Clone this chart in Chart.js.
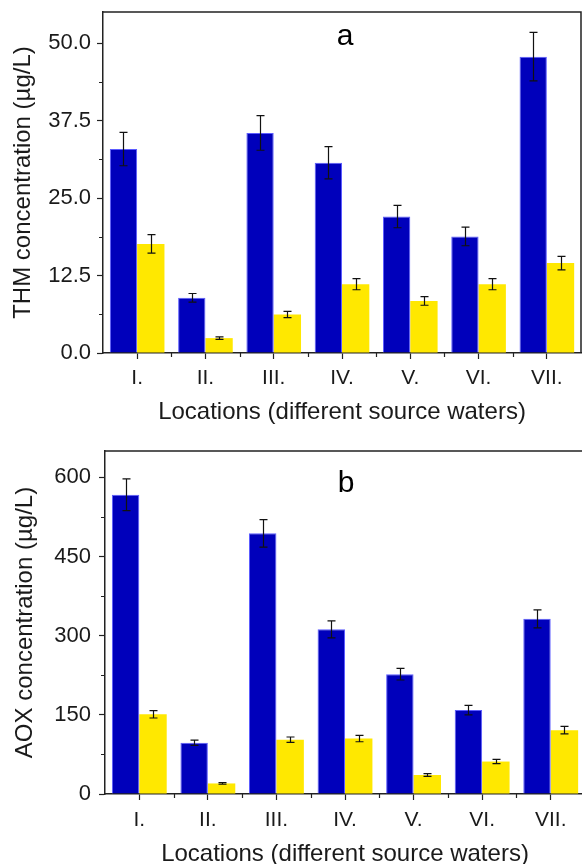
<!DOCTYPE html>
<html>
<head>
<meta charset="utf-8">
<script src="https://cdn.jsdelivr.net/npm/chart.js@4/dist/chart.umd.min.js"></script>
<style>
  html, body { margin: 0; padding: 0; background: #fff; overflow: hidden; width: 582px; height: 864px; }
  #wrapA { position: absolute; left: 0; top: 0; width: 582px; height: 432px; }
  #wrapB { position: absolute; left: 0; top: 432px; width: 592px; height: 432px; }
</style>
</head>
<body>
<div id="wrapA"><canvas id="chartA" width="582" height="432"></canvas></div>
<div id="wrapB"><canvas id="chartB" width="592" height="432"></canvas></div>
<script>
// ---- Data ----
const categories = ['I.', 'II.', 'III.', 'IV.', 'V.', 'VI.', 'VII.'];

const thmBlue      = [32.9, 8.9, 35.5, 30.7, 22.0, 18.8, 47.8];
const thmBlueErr   = [2.7, 0.7, 2.8, 2.6, 1.8, 1.5, 3.9];
const thmYellow    = [17.6, 2.4, 6.2, 11.1, 8.4, 11.1, 14.5];
const thmYellowErr = [1.5, 0.2, 0.5, 0.9, 0.7, 0.9, 1.1];

const aoxBlue      = [567, 97, 494, 312, 227, 159, 332];
const aoxBlueErr   = [30, 5, 26, 16, 11, 9, 17];
const aoxYellow    = [151, 20, 103, 105, 36, 61.5, 121];
const aoxYellowErr = [7, 1.5, 5, 6, 2.5, 4, 7];

const thmTicks = { min: 0, max: 55, step: 12.5, minor: 6.25, decimals: 1 };
const aoxTicks = { min: 0, max: 650, step: 150, minor: 75, decimals: 0 };

// ---- Styling ----
const FONT = "'Liberation Sans', Arial, Helvetica, sans-serif";
const INK = '#1a1a1a';
const BLUE = '#0000BB';
const BLUE_EDGE = '#5c5cff';
const YELLOW = '#FFE800';

const framePlugin = {
  id: 'frame',
  afterDatasetsDraw(chart, args, opts) {
    const ctx = chart.ctx;
    const y = chart.scales.y;
    ctx.save();
    ctx.strokeStyle = '#111';
    ctx.lineWidth = 1.2;
    chart.data.datasets.forEach((ds, i) => {
      const meta = chart.getDatasetMeta(i);
      meta.data.forEach((bar, j) => {
        const v = ds.data[j], e = ds.errors[j];
        const cx = Math.round(bar.x) + 0.5;
        const yt = y.getPixelForValue(v + e);
        const yb = y.getPixelForValue(v - e);
        ctx.beginPath();
        ctx.moveTo(cx, yt); ctx.lineTo(cx, yb);
        ctx.moveTo(cx - 4, yt); ctx.lineTo(cx + 4, yt);
        ctx.moveTo(cx - 4, yb); ctx.lineTo(cx + 4, yb);
        ctx.stroke();
      });
    });
    ctx.restore();
  },
  afterDraw(chart, args, opts) {
    const ctx = chart.ctx;
    const a = chart.chartArea;
    const x = chart.scales.x, y = chart.scales.y;
    ctx.save();
    ctx.strokeStyle = '#222';
    ctx.lineWidth = 1.5;
    ctx.beginPath();
    ctx.moveTo(a.left, a.top); ctx.lineTo(a.right, a.top); ctx.lineTo(a.right, a.bottom);
    ctx.stroke();
    ctx.lineWidth = 1.2;
    ctx.beginPath();
    for (let v = opts.min + opts.minor; v < opts.max; v += opts.step) {
      const py = Math.round(y.getPixelForValue(v)) + 0.5;
      ctx.moveTo(a.left, py); ctx.lineTo(a.left - 4, py);
    }
    for (let i = 0; i <= categories.length; i++) {
      const px = Math.round(x.getPixelForValue(i - 0.5)) + 0.5;
      if (px <= a.left + 1 || px >= a.right - 1) continue;
      ctx.moveTo(px, a.bottom); ctx.lineTo(px, a.bottom + 4);
    }
    ctx.stroke();
    ctx.fillStyle = '#000';
    ctx.font = '30px ' + FONT;
    ctx.textAlign = 'center';
    ctx.textBaseline = 'alphabetic';
    ctx.fillText(opts.letter, (a.left + a.right) / 2 + opts.letterDx, a.top + opts.letterDy);
    ctx.restore();
  }
};

function makeChart(id, seriesA, errA, seriesB, errB, tk, cfg) {
  return new Chart(document.getElementById(id), {
    type: 'bar',
    data: {
      labels: categories,
      datasets: [
        { label: 'Series 1', data: seriesA, errors: errA, backgroundColor: BLUE,
          borderColor: BLUE_EDGE, borderWidth: 1, borderSkipped: 'bottom' },
        { label: 'Series 2', data: seriesB, errors: errB, backgroundColor: YELLOW,
          borderColor: YELLOW, borderWidth: 0 }
      ]
    },
    options: {
      responsive: false,
      animation: false,
      devicePixelRatio: 1,
      datasets: { bar: { categoryPercentage: 0.8, barPercentage: 1.0 } },
      layout: { padding: cfg.padding },
      plugins: {
        legend: { display: false },
        tooltip: { enabled: false },
        frame: { min: tk.min, max: tk.max, step: tk.step, minor: tk.minor,
                 letter: cfg.letter, letterDx: cfg.letterDx, letterDy: cfg.letterDy }
      },
      scales: {
        x: {
          offset: true,
          grid: { display: true, drawOnChartArea: false, offset: false, drawTicks: true,
                  tickLength: 6, tickWidth: 1.2, tickColor: '#222' },
          border: { display: true, color: '#222', width: 1.5 },
          ticks: { color: INK, font: { family: FONT, size: 21 }, padding: cfg.xTickPad, maxRotation: 0 },
          title: { display: true, text: 'Locations (different source waters)', color: INK,
                   font: { family: FONT, size: 24 }, padding: { top: 0, bottom: cfg.xTitlePad } },
          afterFit: (s) => { s.height = cfg.xHeight; s.paddingLeft = 0; s.paddingRight = 0; }
        },
        y: {
          min: tk.min, max: tk.max,
          grid: { display: true, drawOnChartArea: false, drawTicks: true,
                  tickLength: 6, tickWidth: 1.2, tickColor: '#222' },
          border: { display: true, color: '#222', width: 1.5 },
          ticks: { stepSize: tk.step, includeBounds: false, color: INK,
                   font: { family: FONT, size: 22 }, padding: cfg.yTickPad,
                   callback: (v) => Number(v).toFixed(tk.decimals) },
          title: { display: true, text: cfg.yTitle, color: INK,
                   font: { family: FONT, size: 24 }, padding: { top: cfg.yTitlePad, bottom: 0 } },
          afterFit: (s) => { s.width = cfg.yWidth; s.paddingTop = 0; s.paddingBottom = 0; }
        }
      }
    },
    plugins: [framePlugin]
  });
}

makeChart('chartA', thmBlue, thmBlueErr, thmYellow, thmYellowErr, thmTicks, {
  padding: { left: 0, top: 12, right: 1, bottom: 0 },
  xHeight: 79, yWidth: 103, xTickPad: 7, xTitlePad: 5, yTickPad: 6, yTitlePad: 9,
  yTitle: 'THM concentration (µg/L)', letter: 'a', letterDx: 3, letterDy: 33
});

makeChart('chartB', aoxBlue, aoxBlueErr, aoxYellow, aoxYellowErr, aoxTicks, {
  padding: { left: 0, top: 19, right: 7, bottom: 0 },
  xHeight: 70, yWidth: 105, xTickPad: 8, xTitlePad: -5, yTickPad: 8, yTitlePad: 11,
  yTitle: 'AOX concentration (µg/L)', letter: 'b', letterDx: 1, letterDy: 41
});
</script>
</body>
</html>
